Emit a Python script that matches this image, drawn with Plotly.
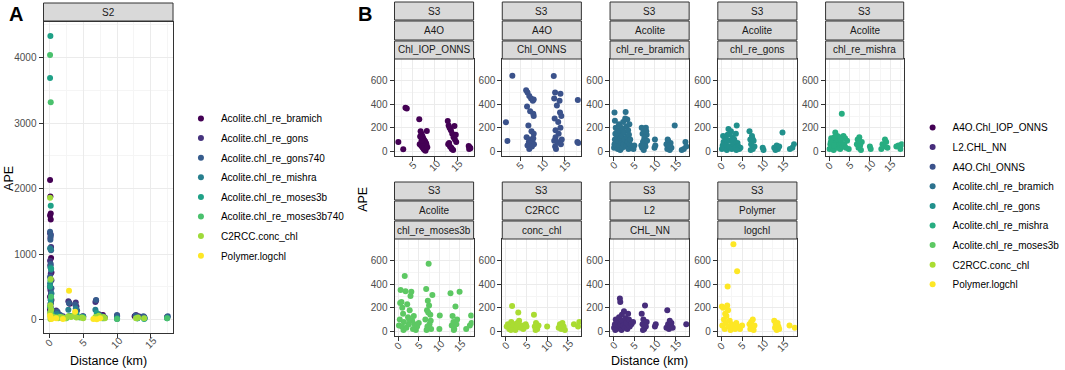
import plotly.graph_objects as go

W, H = 1065, 370

# ---------------- DATA ----------------
# Panel A (S2): (distance km, APE) per product
A_names = ["Acolite.chl_re_bramich", "Acolite.chl_re_gons", "Acolite.chl_re_gons740",
           "Acolite.chl_re_mishra", "Acolite.chl_re_moses3b", "Acolite.chl_re_moses3b740",
           "C2RCC.conc_chl", "Polymer.logchl"]

A_bramich = [(0.1, 2130), (0.15, 1880), (0.2, 1620), (0.1, 1590), (0.2, 1530), (0.25, 940), (0.15, 830),
             (0.3, 720), (0.1, 500), (0.2, 470), (0.25, 400), (0.1, 350), (0.3, 300), (0.2, 250), (0.15, 200),
             (0.1, 150), (0.2, 100), (0.3, 50), (1.2, 60), (1.5, 40), (1.8, 30), (2.9, 260), (3.0, 240),
             (3.9, 120), (4.8, 40), (6.9, 290), (7.2, 60), (7.5, 40), (7.9, 70), (8.1, 30), (10.0, 60),
             (12.6, 50), (13.0, 40), (14.0, 30), (17.4, 40)]
A_gons = [(0.1, 1320), (0.2, 1300), (0.15, 1250), (0.25, 1110), (0.1, 900), (0.2, 700), (0.3, 600),
          (0.15, 450), (0.2, 300), (0.1, 200), (0.25, 120), (0.3, 60), (1.0, 140), (1.4, 80), (2.0, 50),
          (2.8, 280), (3.9, 260), (4.0, 200), (5.0, 50), (6.8, 270), (7.3, 80), (7.8, 60), (8.0, 40),
          (10.0, 50), (12.8, 70), (13.2, 50), (14.0, 40), (17.4, 30)]
A_gons740 = [(0.1, 1340), (0.2, 1280), (0.15, 1220), (0.25, 1060), (0.2, 850), (0.1, 650), (0.3, 480),
             (0.2, 350), (0.15, 180), (0.3, 100), (1.2, 120), (1.6, 70), (2.9, 250), (3.8, 230), (4.1, 140),
             (4.9, 50), (6.9, 300), (7.4, 70), (7.7, 50), (8.2, 30), (10.0, 70), (12.7, 60), (13.1, 40),
             (13.9, 50), (17.5, 50)]
A_mishra = [(0.1, 1090), (0.2, 1070), (0.15, 800), (0.25, 760), (0.1, 550), (0.3, 400), (0.2, 250),
            (0.15, 120), (0.3, 60), (1.1, 90), (1.7, 50), (2.8, 150), (3.9, 170), (4.9, 40), (6.8, 150),
            (7.1, 60), (7.6, 40), (8.0, 20), (10.0, 10), (12.9, 30), (13.0, 20), (14.1, 20), (17.4, 30)]
A_moses3b = [(0.15, 4330), (0.1, 3690), (0.2, 1740), (0.25, 780), (0.1, 500), (0.2, 300), (0.3, 150),
             (0.15, 60), (1.3, 50), (2.0, 30), (3.0, 60), (4.0, 80), (5.0, 40), (7.0, 100), (7.5, 50),
             (8.0, 30), (10.0, 20), (13.0, 20), (14.0, 10), (17.4, 20)]
A_moses3b740 = [(0.1, 4040), (0.2, 3320), (0.15, 600), (0.25, 350), (0.1, 200), (0.3, 90), (1.5, 40),
                (2.5, 20), (3.2, 50), (4.5, 30), (7.2, 30), (7.8, 20), (10.0, 10), (13.0, 20), (17.4, 20)]
A_c2rcc = [(0.1, 1860), (0.2, 620), (0.15, 220), (0.25, 150), (0.1, 100), (0.2, 60), (0.3, 30), (0.15, 10),
           (0.6, 40), (1.0, 30), (1.3, 20), (1.6, 40), (2.0, 30), (2.4, 20), (2.8, 50), (3.2, 40), (3.6, 60),
           (4.0, 30), (4.8, 30), (5.0, 20), (6.8, 40), (7.0, 20), (7.3, 60), (7.6, 30), (8.0, 40), (8.2, 20),
           (12.8, 20), (13.1, 30), (14.0, 20)]
A_polymer = [(2.9, 440), (0.1, 60), (0.2, 30), (0.3, 10), (1.0, 20), (2.0, 10), (3.8, 120), (6.5, 10),
             (7.0, 5), (7.5, 20)]
A_data = [A_bramich, A_gons, A_gons740, A_mishra, A_moses3b, A_moses3b740, A_c2rcc, A_polymer]

# Panel B (S3): facets (strip labels) and (distance km, APE) per product
B_names = ["A4O.Chl_IOP_ONNS", "L2.CHL_NN", "A4O.Chl_ONNS", "Acolite.chl_re_bramich",
           "Acolite.chl_re_gons", "Acolite.chl_re_mishra", "Acolite.chl_re_moses3b",
           "C2RCC.conc_chl", "Polymer.logchl"]
B_proc = ["A4O", "L2", "A4O", "Acolite", "Acolite", "Acolite", "Acolite", "C2RCC", "Polymer"]
B_var = ["Chl_IOP_ONNS", "CHL_NN", "Chl_ONNS", "chl_re_bramich", "chl_re_gons", "chl_re_mishra",
         "chl_re_moses3b", "conc_chl", "logchl"]

B_iop_onns = [(1.8, 80), (2.9, 17), (3.4, 371), (3.7, 365), (6.5, 272), (6.8, 170), (7.0, 150), (7.2, 130),
              (7.4, 110), (7.6, 95), (7.8, 85), (8.0, 70), (8.2, 172), (6.6, 60), (6.9, 50), (7.1, 40),
              (7.3, 30), (7.5, 20), (7.7, 10), (7.9, 5), (8.1, 60), (6.7, 125), (7.0, 90), (7.3, 45),
              (7.6, 25), (7.9, 15), (8.3, 35), (12.9, 257), (13.1, 220), (13.3, 200), (13.6, 180),
              (13.9, 150), (14.2, 120), (14.5, 100), (14.8, 80), (13.0, 60), (13.4, 40), (13.8, 20),
              (14.1, 10), (14.4, 215), (14.7, 140), (13.2, 70), (13.7, 30), (17.6, 45), (17.8, 35),
              (18.0, 25), (17.7, 20)]
B_l2 = [(0.1, 30), (0.3, 60), (0.5, 100), (0.7, 20), (0.9, 80), (1.1, 40), (1.3, 120), (1.5, 280),
        (1.6, 250), (1.7, 60), (1.9, 10), (2.1, 90), (2.3, 50), (2.5, 170), (2.7, 30), (2.9, 110),
        (3.1, 70), (3.3, 20), (3.5, 150), (3.7, 100), (3.9, 40), (4.3, 60), (4.7, 80), (0.4, 10),
        (2.0, 140), (6.8, 150), (7.0, 60), (7.2, 100), (7.4, 20), (7.6, 220), (7.8, 40), (8.0, 80),
        (7.1, 10), (7.5, 50), (10.0, 40), (10.2, 60), (12.8, 30), (13.0, 180), (13.2, 60), (13.4, 20),
        (13.6, 90), (13.8, 40), (14.0, 70), (14.3, 30), (17.6, 60)]
B_onns = [(1.76, 246), (2.1, 88), (3.2, 643), (6.3, 520), (6.6, 500), (7.0, 470), (7.4, 450), (7.8, 430),
          (6.5, 380), (7.2, 340), (7.9, 320), (8.0, 300), (6.8, 220), (7.5, 170), (8.0, 150), (6.4, 120),
          (7.1, 100), (7.7, 90), (6.9, 80), (7.3, 70), (8.05, 60), (6.6, 50), (7.6, 40), (7.0, 20),
          (7.9, 110), (8.0, 440), (12.5, 640), (12.8, 500), (14.0, 490), (12.6, 450), (13.8, 430),
          (13.2, 390), (14.2, 300), (12.7, 280), (13.5, 250), (14.0, 200), (12.9, 180), (13.6, 150),
          (14.3, 100), (12.6, 90), (13.3, 80), (14.1, 60), (12.8, 40), (13.0, 20), (13.9, 330),
          (12.9, 120), (17.9, 437), (17.8, 80), (18.0, 70)]
B_bramich = [(0.1, 30), (0.2, 60), (0.3, 100), (0.4, 150), (0.5, 200), (0.3, 260), (0.2, 330), (0.6, 80),
             (0.7, 40), (0.8, 120), (0.9, 180), (1.0, 20), (1.1, 90), (1.2, 140), (1.3, 230), (1.4, 50),
             (1.5, 170), (1.6, 10), (1.7, 110), (1.8, 200), (1.9, 70), (2.0, 130), (2.1, 30), (2.2, 190),
             (2.3, 250), (2.4, 60), (2.5, 160), (2.7, 100), (2.8, 280), (2.9, 335), (3.0, 40), (3.1, 210),
             (3.2, 120), (3.3, 270), (3.4, 80), (3.5, 180), (3.6, 20), (3.7, 140), (3.8, 230), (3.9, 60),
             (4.0, 100), (4.2, 40), (4.5, 30), (4.8, 20), (5.0, 50), (6.8, 200), (7.0, 150), (7.2, 190),
             (7.4, 100), (7.6, 60), (7.8, 200), (8.0, 140), (6.9, 30), (7.1, 80), (7.3, 10), (7.5, 120),
             (7.7, 40), (7.9, 170), (8.1, 90), (6.7, 50), (7.3, 190), (10.0, 100), (10.1, 50), (9.9, 30),
             (12.8, 60), (13.0, 20), (13.2, 90), (13.4, 40), (13.6, 10), (13.8, 70), (14.0, 30), (13.1, 100),
             (13.5, 50), (14.8, 220), (16.5, 10), (17.0, 20), (17.4, 80), (17.6, 40)]
B_gons = [(0.1, 20), (0.3, 50), (0.5, 80), (0.7, 30), (0.9, 110), (1.1, 60), (1.3, 10), (1.5, 140),
          (1.7, 190), (1.9, 40), (2.1, 90), (2.3, 170), (2.5, 20), (2.7, 120), (2.9, 60), (3.1, 100),
          (3.3, 30), (3.5, 150), (3.7, 220), (3.9, 70), (4.1, 40), (4.3, 20), (4.6, 30), (0.4, 130),
          (1.2, 100), (2.0, 150), (2.8, 80), (3.6, 10), (6.8, 170), (7.0, 100), (7.2, 60), (7.4, 130),
          (7.6, 20), (7.8, 90), (8.0, 40), (7.1, 10), (7.5, 110), (10.0, 30), (10.2, 10), (12.8, 30),
          (13.1, 10), (13.4, 50), (13.7, 20), (14.0, 40), (14.8, 160), (16.6, 20), (17.2, 30), (17.6, 60)]
B_mishra = [(0.1, 20), (0.3, 60), (0.5, 110), (0.7, 40), (0.9, 90), (1.1, 10), (1.3, 120), (1.5, 160),
            (1.7, 70), (1.9, 30), (2.1, 100), (2.3, 50), (2.5, 120), (2.7, 20), (2.9, 80), (3.1, 320),
            (3.3, 40), (3.5, 130), (3.7, 60), (3.9, 110), (4.1, 30), (4.4, 90), (4.8, 20), (0.4, 80),
            (1.2, 50), (2.0, 130), (2.8, 100), (6.8, 60), (7.0, 100), (7.2, 30), (7.4, 120), (7.6, 50),
            (7.8, 10), (8.0, 80), (7.3, 90), (10.0, 40), (10.2, 20), (12.8, 20), (13.1, 60), (13.4, 40),
            (13.7, 100), (14.0, 80), (14.3, 30), (16.5, 40), (17.0, 50), (17.5, 20), (17.8, 60)]
B_moses3b = [(0.2, 50), (0.4, 100), (0.6, 351), (0.8, 250), (1.0, 200), (1.2, 150), (1.4, 80), (1.6, 471),
             (1.8, 340), (2.0, 30), (2.2, 230), (2.4, 120), (2.6, 60), (2.8, 180), (3.0, 300), (3.2, 337),
             (3.4, 90), (3.6, 20), (3.8, 130), (4.0, 60), (4.3, 10), (4.6, 40), (5.0, 70), (0.5, 240),
             (1.3, 10), (2.7, 100), (0.9, 40), (6.6, 100), (6.8, 360), (7.0, 180), (7.2, 260), (7.4, 574),
             (7.6, 60), (7.8, 140), (8.0, 20), (8.3, 308), (7.1, 40), (7.5, 220), (7.9, 90), (6.9, 10),
             (7.3, 160), (10.1, 134), (10.0, 20), (12.7, 323), (13.0, 50), (13.2, 130), (13.4, 80),
             (13.6, 20), (13.9, 211), (14.1, 60), (14.3, 100), (14.9, 337), (13.5, 10), (16.5, 20),
             (17.4, 50), (17.7, 134), (17.8, 70)]
B_c2rcc = [(0.2, 40), (0.5, 60), (0.8, 20), (1.0, 50), (1.3, 80), (1.5, 215), (1.7, 30), (2.0, 60),
           (2.3, 10), (2.6, 40), (3.0, 160), (3.2, 90), (3.5, 30), (3.8, 50), (4.2, 20), (4.8, 60), (5.0, 40),
           (1.2, 10), (2.8, 70), (6.8, 140), (7.0, 40), (7.3, 70), (7.6, 20), (7.9, 50), (7.2, 10),
           (10.0, 40), (12.8, 30), (13.1, 60), (13.4, 20), (13.7, 70), (14.0, 40), (14.3, 10), (13.2, 50),
           (16.5, 60), (17.5, 40), (17.8, 80)]
B_polymer = [(0.1, 210), (0.4, 200), (0.2, 50), (0.6, 100), (0.8, 20), (1.0, 70), (1.2, 130), (1.4, 220),
             (1.5, 380), (1.6, 180), (1.8, 40), (2.0, 90), (2.2, 10), (2.4, 60), (2.6, 30), (2.9, 740),
             (3.0, 50), (3.3, 20), (3.6, 70), (3.8, 510), (4.0, 40), (4.5, 20), (5.0, 50), (0.9, 150),
             (6.8, 60), (7.0, 20), (7.2, 80), (7.4, 40), (7.6, 100), (7.8, 10), (8.0, 50), (12.8, 90),
             (13.0, 30), (13.2, 60), (13.4, 10), (13.6, 70), (13.8, 40), (14.0, 20), (16.5, 50), (17.8, 30)]
B_data = [B_iop_onns, B_l2, B_onns, B_bramich, B_gons, B_mishra, B_moses3b, B_c2rcc, B_polymer]

X_TICKS = [0, 5, 10, 15]

# ---------------- STYLE ----------------
A_colors = ["#440154", "#46337E", "#365C8D", "#277F8E", "#1FA187", "#4AC16D", "#9FDA3A", "#FDE725"]
B_colors = ["#440154", "#472D7B", "#3B528B", "#2C728E", "#21908C", "#27AD81", "#5DC863", "#AADC32", "#FDE725"]

FONT = "Liberation Sans, Arial, Helvetica, sans-serif"
GRID = "#EBEBEB"
MINOR = "#F5F5F5"
BORDER = "#333333"
TICKC = "#4D4D4D"

# facet position (col,row) of each B series, in B_names order
B_facet = [(0, 0), (2, 1), (1, 0), (2, 0), (3, 0), (4, 0), (0, 1), (1, 1), (3, 1)]
B_cols_px = [(399, 479), (508, 588), (617, 697), (726, 806), (835, 914)]
B_rows_px = [(59, 156), (239, 336)]
B_strip_px = [[(2, 20), (21, 40), (41, 59)], [(182, 200), (201, 220), (221, 239)]]

def fx(p):
    return p / W

def fy(p):
    return 1 - p / H

fig = go.Figure()
layout = dict(width=W, height=H, margin=dict(l=0, r=0, t=0, b=0),
              plot_bgcolor="white", paper_bgcolor="white", font=dict(family=FONT),
              showlegend=True)
shapes, annots = [], []

def xaxis(dom, rng, ref, anchor, bottom_px):
    # tick labels drawn as centred, rotated texts (ggplot style)
    for v in X_TICKS:
        if rng[0] <= v <= rng[1]:
            annots.append(dict(xref=ref, yref="paper", x=v, y=fy(bottom_px + 9.5), text=str(v),
                               textangle=-45, showarrow=False, xanchor="center", yanchor="middle",
                               font=dict(size=10, color=TICKC, family=FONT)))
    return dict(domain=[fx(dom[0]), fx(dom[1])], range=rng, anchor=anchor,
                tickmode="array", tickvals=X_TICKS, showticklabels=False,
                showgrid=True, gridcolor=GRID, gridwidth=1,
                minor=dict(dtick=2.5, tick0=0, showgrid=True, gridcolor=MINOR, gridwidth=0.6),
                zeroline=False, showline=True, mirror=True, linecolor=BORDER, linewidth=1,
                ticks="outside", ticklen=4, tickcolor=BORDER)

def yaxis(dom, rng, dt, anchor):
    return dict(domain=[fy(dom[1]), fy(dom[0])], range=rng, anchor=anchor,
                tick0=0, dtick=dt, showgrid=True, gridcolor=GRID, gridwidth=1,
                minor=dict(dtick=dt / 2, tick0=0, showgrid=True, gridcolor=MINOR, gridwidth=0.6),
                zeroline=False, showline=True, mirror=True, linecolor=BORDER, linewidth=1,
                ticks="outside", ticklen=4, tickcolor=BORDER,
                tickfont=dict(size=10, color=TICKC, family=FONT))

def strip(x0, x1, y0, y1, text):
    shapes.append(dict(type="rect", xref="paper", yref="paper", x0=fx(x0), x1=fx(x1),
                       y0=fy(y1), y1=fy(y0), fillcolor="#D9D9D9",
                       line=dict(color=BORDER, width=1), layer="above"))
    annots.append(dict(xref="paper", yref="paper", x=fx((x0 + x1) / 2), y=fy((y0 + y1) / 2),
                       text=text, showarrow=False, xanchor="center", yanchor="middle",
                       font=dict(size=10, color="#1A1A1A", family=FONT)))

# ---- Panel A ----
layout["xaxis"] = xaxis((44, 175), [-0.87, 18.27], "x", "y", 333)
layout["yaxis"] = yaxis((22, 333), [-205, 4545], 1000, "x")
strip(44, 175, 3, 21, "S2")
for name, pts, col in zip(A_names, A_data, A_colors):
    fig.add_trace(go.Scatter(x=[p[0] for p in pts], y=[p[1] for p in pts], mode="markers",
                             name=name, legend="legend", legendgroup="A" + name,
                             marker=dict(color=col, size=6, line=dict(width=0)),
                             xaxis="x", yaxis="y"))

# ---- Panel B ----
B_xrange_full = [-0.88, 18.3]
B_xrange_a4o = [0.94, 18.7]
B_yrange = [-40, 785]
for i, (name, pts, col) in enumerate(zip(B_names, B_data, B_colors)):
    c, r = B_facet[i]
    k = i + 2
    xr = B_xrange_a4o if B_proc[i] == "A4O" else B_xrange_full
    layout["xaxis%d" % k] = xaxis(B_cols_px[c], xr, "x%d" % k, "y%d" % k, B_rows_px[r][1])
    layout["yaxis%d" % k] = yaxis(B_rows_px[r], B_yrange, 200, "x%d" % k)
    for lab, (s0, s1) in zip(["S3", B_proc[i], B_var[i]], B_strip_px[r]):
        strip(B_cols_px[c][0], B_cols_px[c][1], s0, s1, lab)
    fig.add_trace(go.Scatter(x=[p[0] for p in pts], y=[p[1] for p in pts], mode="markers",
                             name=name, legend="legend2", legendgroup="B" + name,
                             marker=dict(color=col, size=6, line=dict(width=0)),
                             xaxis="x%d" % k, yaxis="y%d" % k))

# ---- titles / labels ----
def text(x, y, s, size, angle=0, bold=False, anchor="center"):
    annots.append(dict(xref="paper", yref="paper", x=fx(x), y=fy(y),
                       text=("<b>%s</b>" % s) if bold else s, showarrow=False,
                       xanchor=anchor, yanchor="middle", textangle=angle,
                       font=dict(size=size, color="black", family=FONT)))

text(9, 178, "APE", 12.5, angle=-90)
text(110, 361, "Distance (km)", 12.5)
text(367, 199, "APE", 12.5, angle=-90)
text(657, 361, "Distance (km)", 12.5)
text(7, 14, "A", 20, bold=True, anchor="left")
text(360, 14, "B", 20, bold=True, anchor="left")

legend_style = dict(font=dict(size=10, color="black", family=FONT), bgcolor="rgba(0,0,0,0)",
                    yanchor="top", xanchor="left", tracegroupgap=0.6, itemclick=False)
layout["legend"] = dict(x=fx(183), y=fy(104), **legend_style)
layout["legend2"] = dict(x=fx(923), y=fy(113), **legend_style)
layout["shapes"] = shapes
layout["annotations"] = annots
fig.update_layout(**layout)
fig.write_html("out.html", config={"displayModeBar": False},
               post_script="document.body.style.margin='0';document.body.style.overflow='hidden';")
